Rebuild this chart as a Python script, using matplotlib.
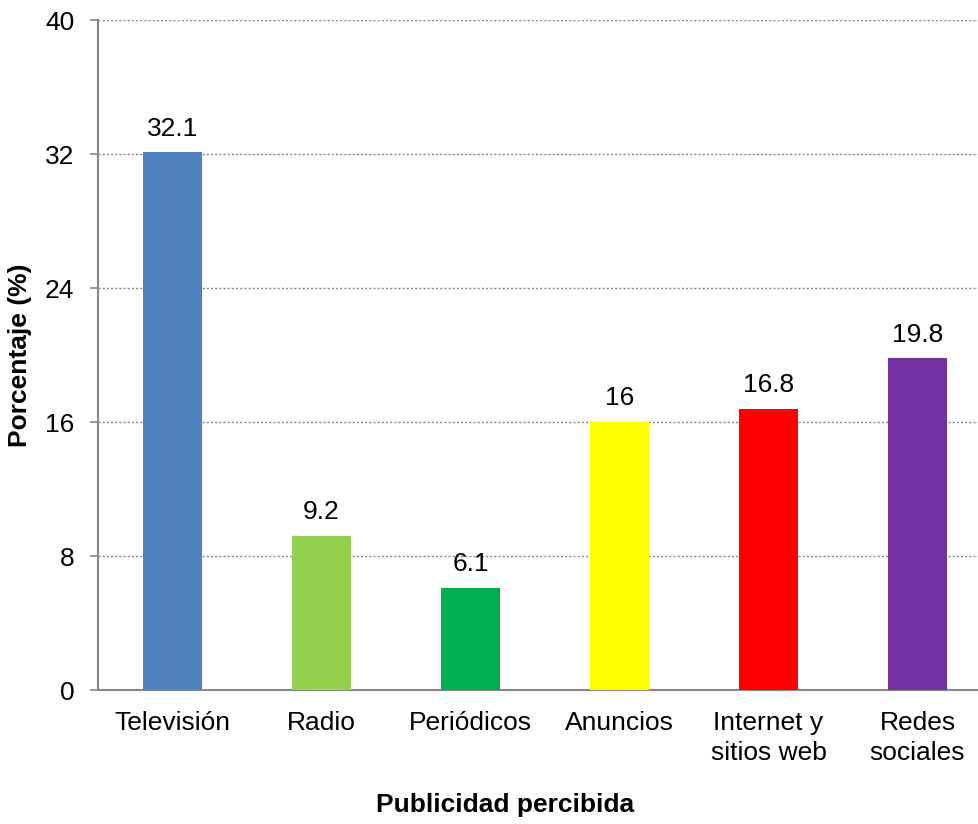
import matplotlib
matplotlib.use("Agg")
import matplotlib.pyplot as plt
import numpy as np

plt.rcParams['font.family'] = ['Liberation Sans', 'DejaVu Sans']

# Data
categories = ['Televisión', 'Radio', 'Periódicos', 'Anuncios', 'Internet y\nsitios web', 'Redes\nsociales']
values = [32.1, 9.2, 6.1, 16, 16.8, 19.8]
value_labels = ['32.1', '9.2', '6.1', '16', '16.8', '19.8']
colors = ['#4F81BD', '#92D050', '#00B050', '#FFFF00', '#FF0000', '#7030A0']
yticks = [0, 8, 16, 24, 32, 40]

FS = 19

fig = plt.figure(figsize=(9.79, 8.24), dpi=100)
ax = fig.add_axes([98 / 979, 1 - 690 / 824, 894 / 979, 670 / 824])

x = np.arange(len(categories))
ax.bar(x, values, width=0.4, color=colors, zorder=3)

# value labels above bars
for xi, v, lab in zip(x, values, value_labels):
    ax.annotate(lab, (xi, v), xytext=(0, 17), textcoords='offset points',
                ha='center', va='center', fontsize=FS)

ax.set_xlim(-0.5, len(categories) - 0.5)
ax.set_ylim(0, 40)
ax.set_yticks(yticks)
ax.set_xticks(x)
ax.set_xticklabels(categories, fontsize=FS, linespacing=1.3)
ax.tick_params(axis='y', labelsize=FS, length=6, color='#888888', width=1.2, pad=11)
ax.tick_params(axis='x', length=0, pad=15)

ax.yaxis.grid(True, linestyle=(0, (1.5, 1.5)), color='#888888', linewidth=1.0, zorder=0)
for s in ['top', 'right']:
    ax.spines[s].set_visible(False)
for s in ['left', 'bottom']:
    ax.spines[s].set_color('#888888')
    ax.spines[s].set_linewidth(1.5)

fig.text(20 / 979, 1 - 355 / 824, 'Porcentaje (%)', rotation=90, ha='center', va='center',
         fontsize=FS, fontweight='bold')
fig.text(505 / 979, 1 - 805 / 824, 'Publicidad percibida', ha='center', va='center',
         fontsize=FS, fontweight='bold')

fig.savefig('out.png', dpi=100)
